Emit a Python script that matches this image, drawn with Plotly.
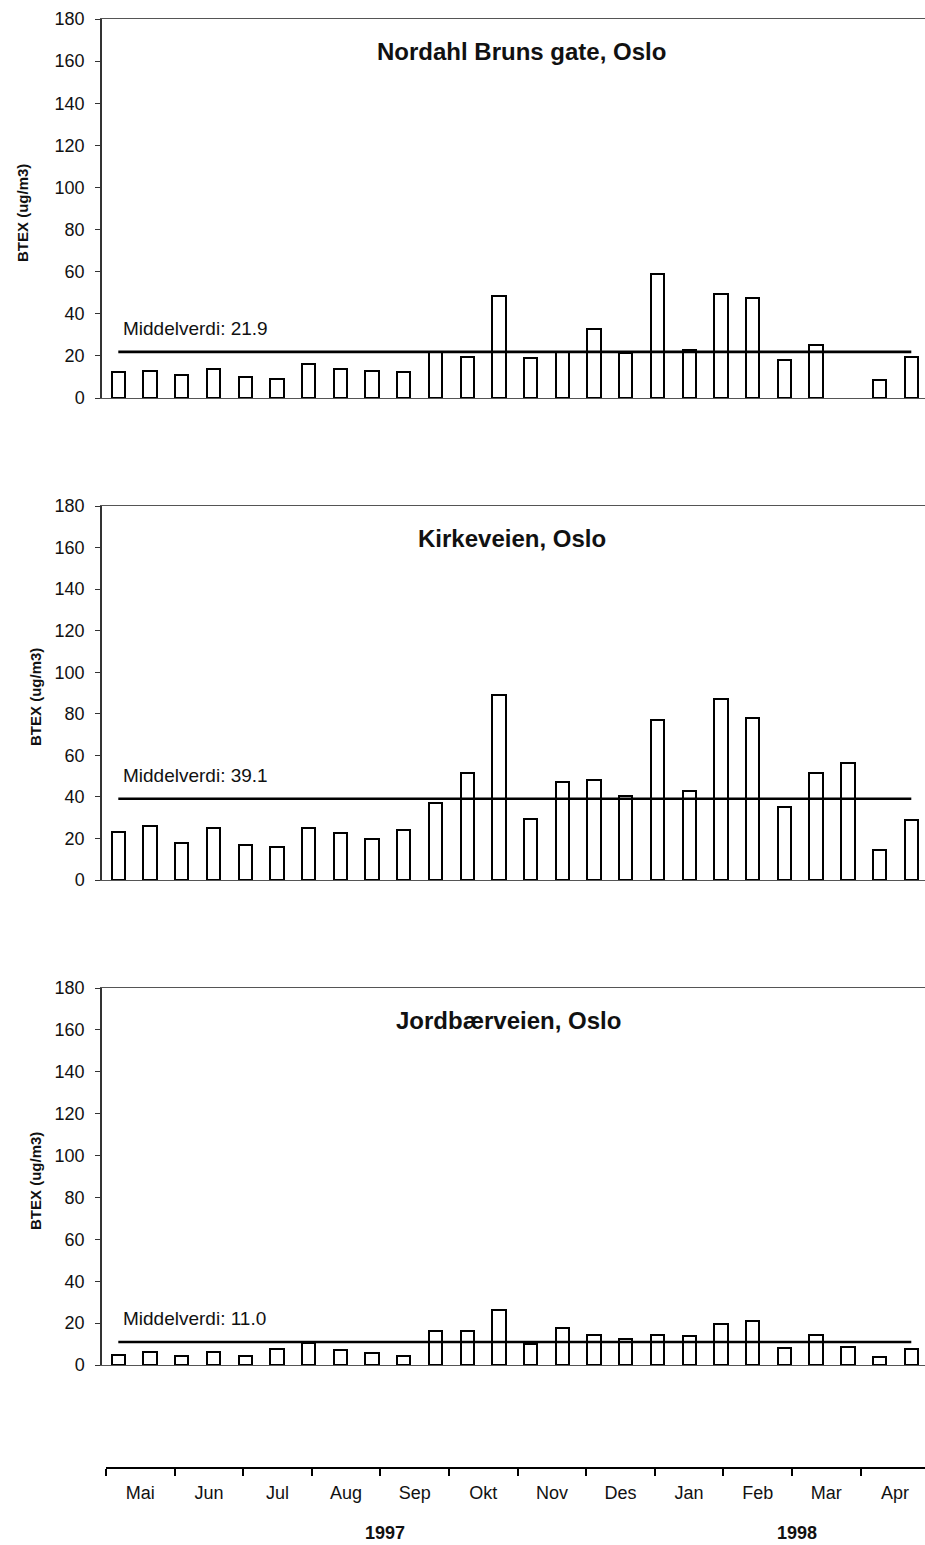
import plotly.graph_objects as go

# ---------------- data ----------------
sample_no = list(range(1, 27))  # 26 two-week sampling periods, May 1997 - Apr 1998

nordahl_bruns = [12.5, 13, 11, 14, 10, 9, 16, 14, 13, 12.5, 22, 19.5, 48.5,
                 19, 22, 33, 21.5, 59, 23, 49.5, 47.5, 18, 25, None, 8.5, 19.5]
kirkeveien = [23, 26, 18, 25, 17, 16, 25, 22.5, 19.5, 24, 37, 51.5, 89,
              29.5, 47, 48, 40.5, 77, 43, 87, 78, 35, 51.5, 56.5, 14.5, 29]
jordbaerveien = [5, 6, 4.5, 6, 4.5, 7.5, 10.5, 7, 5.5, 4.5, 16, 16, 26.5,
                 10, 17.5, 14.5, 12.5, 14.5, 14, 19.5, 21, 8, 14.5, 8.5, 4, 7.5]

titles = ["Nordahl Bruns gate, Oslo", "Kirkeveien, Oslo", "Jordbærveien, Oslo"]
means = [21.9, 39.1, 11.0]
series = [nordahl_bruns, kirkeveien, jordbaerveien]

months = ["Mai", "Jun", "Jul", "Aug", "Sep", "Okt", "Nov", "Des",
          "Jan", "Feb", "Mar", "Apr"]
years = ["1997", "1998"]
year_pos = [4.07, 10.07]          # in months from 1 May 1997

y_ticks = list(range(0, 181, 20))

# ---------------- layout helpers ----------------
W, H = 925, 1545
def px_x(p): return p / W
def px_y(p): return 1 - p / H

FONT = "Liberation Sans, Arial, Helvetica, sans-serif"

# panel pixel extents (top, bottom of 0..180 range)
panels_px = [(19, 398), (506, 880), (988, 1365)]
ytitle_px = [(22, 213), (35, 697), (35, 1181)]
title_px = [(521, 51), (512, 538), (508, 1020)]

x_left_px = 102
first_bar_px = 118.3
bar_step_px = 31.72
x_range = [(x_left_px - first_bar_px) / bar_step_px,
           (W - first_bar_px) / bar_step_px]

fig = go.Figure()
annotations = []

for k, (vals, mean, title) in enumerate(zip(series, means, titles)):
    n = k + 1
    xa = "x" if n == 1 else f"x{n}"
    ya = "y" if n == 1 else f"y{n}"
    xpos = [s - 1 for s in sample_no]
    fig.add_trace(go.Bar(
        x=xpos, y=vals, xaxis=xa, yaxis=ya, width=0.42,
        marker=dict(color="white", line=dict(color="black", width=2)),
        showlegend=False, hoverinfo="x+y"))
    fig.add_trace(go.Scatter(
        x=[xpos[0], xpos[-1]], y=[mean, mean], xaxis=xa, yaxis=ya,
        mode="lines", line=dict(color="black", width=2.6),
        showlegend=False, hoverinfo="y"))
    annotations.append(dict(
        x=0.1, y=mean, xref=xa, yref=ya, xanchor="left", yanchor="middle",
        yshift=23, text=f"Middelverdi: {mean:.1f}", showarrow=False,
        font=dict(family=FONT, size=19, color="#111")))
    tx, ty = title_px[k]
    annotations.append(dict(
        x=px_x(tx), y=px_y(ty), xref="paper", yref="paper",
        xanchor="center", yanchor="middle", text=f"<b>{title}</b>",
        showarrow=False, font=dict(family=FONT, size=24, color="#111")))
    yx, yy = ytitle_px[k]
    annotations.append(dict(
        x=px_x(yx), y=px_y(yy), xref="paper", yref="paper",
        xanchor="center", yanchor="middle", textangle=-90,
        text="<b>BTEX (ug/m3)</b>", showarrow=False,
        font=dict(family=FONT, size=15, color="#111")))

    top, bot = panels_px[k]
    dom_y = [px_y(bot), px_y(top)]
    xkey = "xaxis" if n == 1 else f"xaxis{n}"
    ykey = "yaxis" if n == 1 else f"yaxis{n}"
    fig.layout[xkey] = dict(
        domain=[px_x(x_left_px), 1], range=x_range, anchor=ya,
        showline=True, mirror=True, linecolor="#555", linewidth=1,
        ticks="", showticklabels=False, showgrid=False, zeroline=False,
        automargin=False, fixedrange=True)
    fig.layout[ykey] = dict(
        domain=dom_y, range=[0, 180], anchor=xa,
        tickvals=y_ticks, ticks="outside", ticklen=5, tickwidth=1,
        tickcolor="#333", ticklabelstandoff=7,
        showline=True, linecolor="#333", linewidth=1.5,
        showgrid=False, zeroline=False, automargin=False,
        tickfont=dict(family=FONT, size=18, color="#111"))
    # overlay axis for the inner half of the crossing tick marks
    okey = f"yaxis{n + 4}"
    fig.layout[okey] = dict(
        overlaying=ya, range=[0, 180], anchor=xa, side="left",
        tickvals=y_ticks, ticks="inside", ticklen=6, tickwidth=1,
        tickcolor="#333", showticklabels=False, showline=False,
        showgrid=False, zeroline=False, automargin=False)

# bottom time axis (months)
month_px = 68.6
axis_start_px = 106
fig.add_trace(go.Scatter(x=[0.5], y=[0], xaxis="x4", yaxis="y4", mode="markers",
                         marker=dict(opacity=0), showlegend=False, hoverinfo="skip"))
fig.layout["xaxis4"] = dict(
    domain=[px_x(axis_start_px), 1], range=[0, (W - axis_start_px) / month_px],
    anchor="y4", showline=True, linecolor="black", linewidth=2,
    tickvals=[i + 0.5 for i in range(len(months))], ticktext=months,
    ticks="", ticklabelstandoff=8, showgrid=False, zeroline=False,
    automargin=False,
    tickfont=dict(family=FONT, size=18, color="#111"),
    minor=dict(tickvals=list(range(len(months) + 1)), ticks="outside",
               ticklen=7, tickwidth=1.6, tickcolor="black", showgrid=False))
fig.layout["yaxis4"] = dict(domain=[px_y(1467), px_y(1457)], visible=False,
                            range=[0, 1], anchor="x4", automargin=False)

for yr, pos in zip(years, year_pos):
    annotations.append(dict(
        x=pos, y=px_y(1533), xref="x4", yref="paper", xanchor="center",
        yanchor="middle", text=f"<b>{yr}</b>", showarrow=False,
        font=dict(family=FONT, size=18, color="#111")))

fig.update_layout(
    template="none",
    width=W, height=H, margin=dict(l=0, r=0, t=0, b=0, pad=0, autoexpand=False),
    paper_bgcolor="white", plot_bgcolor="white",
    annotations=annotations, bargap=0, showlegend=False,
    font=dict(family=FONT, color="#111"))

fig.write_html(
    "out.html",
    config={"displayModeBar": False},
    post_script="document.body.style.margin='0';"
                "document.body.style.padding='0';"
                "document.body.style.overflow='hidden';")
